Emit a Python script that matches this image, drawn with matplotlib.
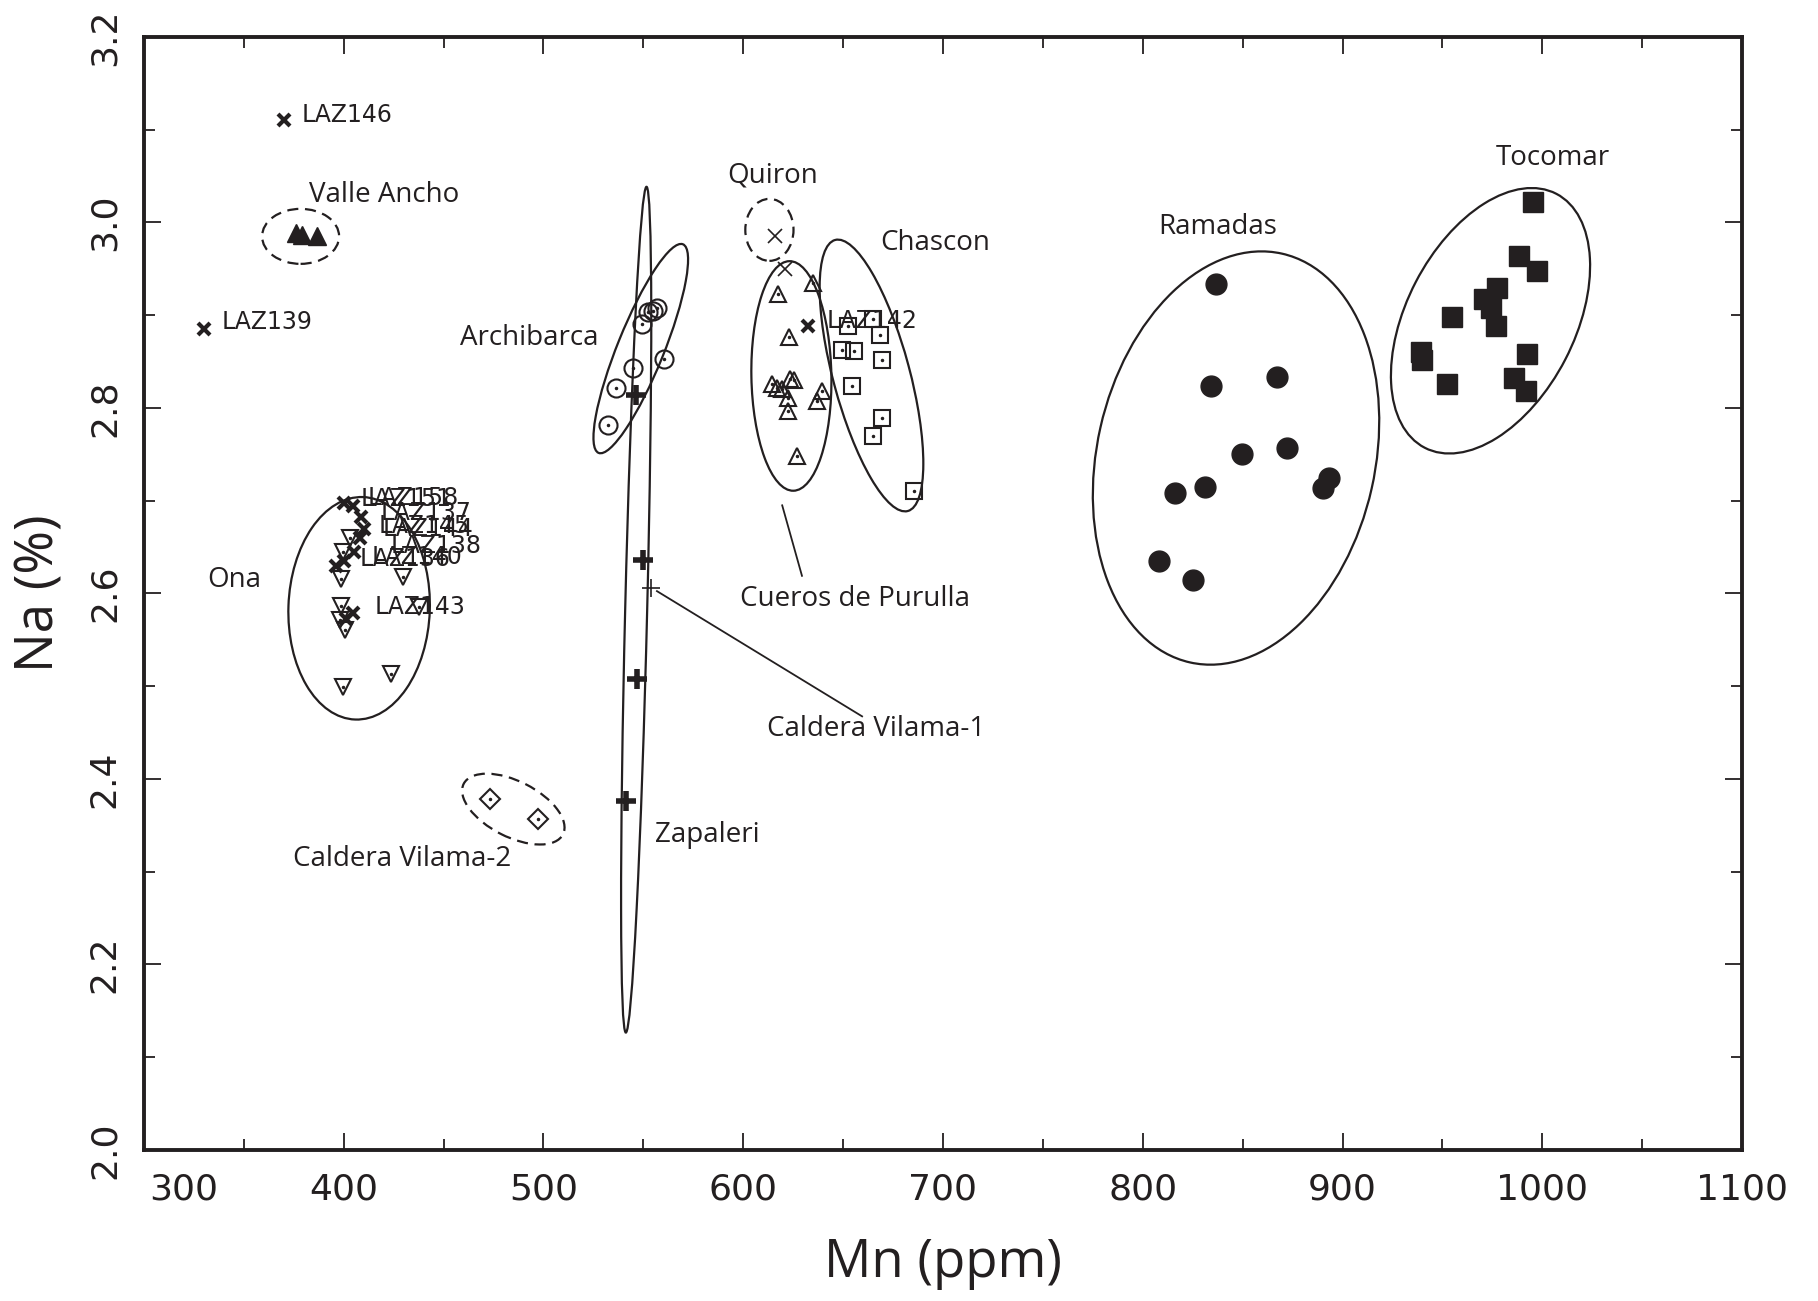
import matplotlib.pyplot as plt
from matplotlib.patches import Ellipse
from matplotlib.transforms import ScaledTranslation

plt.rcParams['font.family'] = ['Open Sans', 'DejaVu Sans']
INK = '#231f20'

# LAZ samples (bold crosses with labels)
laz_names = ['LAZ146', 'LAZ139', 'LAZ142', 'LAZ151', 'LAZ158', 'LAZ137', 'LAZ145',
             'LAZ144', 'LAZ138', 'LAZ140', 'LAZ136', 'LAZ143', '']
laz_mn = [370, 330, 632.6, 400.1, 404.8, 408.8, 410.0, 408.2, 405.3, 400.1, 396.1, 404.8, 401.3]
laz_na = [3.11, 2.885, 2.888, 2.6975, 2.694, 2.6825, 2.67, 2.66, 2.645, 2.635, 2.63, 2.579, 2.5725]

# Valle Ancho (filled triangles)
valle_mn = [376, 379, 386.6]
valle_na = [2.989, 2.987, 2.985]

# Ona (open inverted triangles)
ona_mn = [398.6, 429.5, 398.6, 398.1, 400.6, 437.8, 399.5, 423.5, 403.1, 399.8]
ona_na = [2.616, 2.618, 2.5865, 2.571, 2.561, 2.585, 2.4995, 2.513, 2.6595, 2.645]

# Archibarca (open circles)
archi_mn = [532.5, 536.2, 545.0, 549.2, 552.5, 555.0, 556.7, 560.5]
archi_na = [2.782, 2.821, 2.843, 2.890, 2.903, 2.9045, 2.908, 2.853]

# Zapaleri (bold plus)
zapa_mn = [546.4, 549.9, 547.0, 541.2]
zapa_na = [2.814, 2.636, 2.5075, 2.376]

# Caldera Vilama-1 (thin plus)
vil1_mn = [553.9]
vil1_na = [2.606]

# Caldera Vilama-2 (open diamonds)
vil2_mn = [473.3, 497.2]
vil2_na = [2.378, 2.3565]

# Quiron (thin cross)
quiron_mn = [616.0, 620.9]
quiron_na = [2.985, 2.9495]

# Cueros de Purulla (open triangles)
cueros_mn = [617.6, 635.1, 623.0, 614.3, 616.8, 619.3, 623.5, 625.6, 622.3, 622.3, 639.6, 636.8, 627.1]
cueros_na = [2.9225, 2.935, 2.876, 2.8255, 2.822, 2.820, 2.831, 2.830, 2.811, 2.797, 2.818, 2.808, 2.748]

# Chascon (open squares)
chascon_mn = [652.6, 665.2, 668.5, 649.3, 655.2, 669.6, 654.3, 669.6, 665.2, 685.7]
chascon_na = [2.888, 2.8955, 2.879, 2.863, 2.861, 2.852, 2.824, 2.789, 2.770, 2.710]

# Ramadas (filled circles)
ramadas_mn = [836.5, 834.2, 867.4, 849.6, 872.3, 815.9, 831.2, 893.3, 890.1, 808.2, 825.4]
ramadas_na = [2.934, 2.824, 2.833, 2.750, 2.7565, 2.708, 2.715, 2.724, 2.714, 2.635, 2.6145]

# Tocomar (filled squares)
tocomar_mn = [995.5, 988.4, 997.2, 977.5, 971.0, 974.4, 976.7, 955.0, 939.2, 939.6, 952.2, 992.6, 986.1, 991.7]
tocomar_na = [3.022, 2.964, 2.948, 2.929, 2.917, 2.908, 2.888, 2.898, 2.860, 2.852, 2.8255, 2.858, 2.832, 2.818]

fig = plt.figure(figsize=(18.18, 13.01), dpi=100)
ax = fig.add_axes([0.0792, 0.1161, 0.8790, 0.8555])
ax.set_xlim(300, 1100)
ax.set_ylim(2.0, 3.2)


def ring(mn, na, w, h, ang, ls='-'):
    # ellipse sized in inches, centred on a data point
    tr = fig.dpi_scale_trans + ScaledTranslation(mn, na, ax.transData)
    ax.add_patch(Ellipse((0, 0), w, h, angle=ang, transform=tr, fill=False,
                         lw=1.6, ls=ls, color=INK, zorder=2))


ring(378.4, 2.985, 0.77, 0.55, 0, ls=(0, (5, 3)))      # Valle Ancho
ring(613.1, 2.992, 0.482, 0.62, 0, ls=(0, (5, 3)))     # Quiron
ring(548.7, 2.864, 2.25, 0.464, 68)                    # Archibarca
ring(546.4, 2.5825, 8.46, 0.22, 88.6)                  # Zapaleri
ring(624.1, 2.8345, 2.296, 0.80, 91)                   # Cueros de Purulla
ring(664.2, 2.835, 2.806, 0.766, 105)                  # Chascon
ring(407.7, 2.584, 2.226, 1.414, 88)                   # Ona
ring(846.7, 2.746, 4.19, 2.78, 77.3)                   # Ramadas
ring(974.1, 2.894, 2.86, 1.684, 62.6)                  # Tocomar
ring(484.9, 2.3675, 1.114, 0.556, -27, ls=(0, (5, 3)))  # Caldera Vilama-2


def open_pts(mn, na, m, ms):
    ax.plot(mn, na, m, ms=ms, mfc='none', mec=INK, mew=1.5, ls='none', zorder=3)
    ax.plot(mn, na, '.', ms=3, color=INK, ls='none', zorder=3)


open_pts(ona_mn, ona_na, 'v', 12)
open_pts(archi_mn, archi_na, 'o', 13)
open_pts(cueros_mn, cueros_na, '^', 12)
open_pts(chascon_mn, chascon_na, 's', 11)
open_pts(vil2_mn, vil2_na, 'D', 10)

ax.plot(valle_mn, valle_na, '^', ms=13, color=INK, ls='none', zorder=3)
ax.plot(ramadas_mn, ramadas_na, 'o', ms=15, color=INK, ls='none', zorder=3)
ax.plot(tocomar_mn, tocomar_na, 's', ms=14, color=INK, ls='none', zorder=3)
ax.plot(zapa_mn, zapa_na, '+', ms=14, mew=4, color=INK, ls='none', zorder=3)
ax.plot(vil1_mn, vil1_na, '+', ms=13, mew=1.2, color=INK, ls='none', zorder=3)
ax.plot(quiron_mn, quiron_na, 'x', ms=10, mew=1.2, color=INK, ls='none', zorder=3)
ax.plot(laz_mn, laz_na, 'x', ms=9, mew=3, color=INK, ls='none', zorder=4)

# label offsets (points) for the LAZ samples
laz_off = [(13, 4), (13, 5), (13, 4), (12, 3), (10, 6), (14, 3), (11, 2),
           (16, 6), (26, 4), (20, 3), (17, 5), (15, 4), (0, 0)]
for name, x, y, off in zip(laz_names, laz_mn, laz_na, laz_off):
    if name:
        ax.annotate(name, (x, y), xytext=off, textcoords='offset points',
                    ha='left', va='center', fontsize=17, family='DejaVu Sans',
                    color=INK, zorder=5)

# group names
groups = [('Valle Ancho', 420.4, 3.03), ('Quiron', 614.9, 3.051), ('Chascon', 696.1, 2.9775),
          ('Archibarca', 493.0, 2.875), ('Ramadas', 837.7, 2.995), ('Tocomar', 1005.4, 3.07),
          ('Ona', 345.0, 2.615), ('Cueros de Purulla', 656.1, 2.594),
          ('Caldera Vilama-1', 666.5, 2.454), ('Zapaleri', 581.8, 2.34),
          ('Caldera Vilama-2', 429.1, 2.314)]
for txt, x, y in groups:
    ax.text(x, y, txt, ha='center', va='center', fontsize=20, color=INK)

# leader lines
ax.plot([619.5, 629.4], [2.695, 2.619], color=INK, lw=1.3)
ax.plot([556.8, 659.5], [2.6025, 2.4675], color=INK, lw=1.3)

# axes styling
for s in ax.spines.values():
    s.set_linewidth(2.8)
    s.set_color(INK)
ax.set_xticks(range(300, 1101, 100))
ax.set_xticks(range(350, 1100, 100), minor=True)
yt = [2.0, 2.2, 2.4, 2.6, 2.8, 3.0, 3.2]
ax.set_yticks(yt)
ax.set_yticks([2.1, 2.3, 2.5, 2.7, 2.9, 3.1], minor=True)
ax.set_yticklabels(['%.1f' % v for v in yt], rotation=90, va='center')
ax.tick_params(which='both', direction='in', top=True, right=True, color=INK, width=1.3)
ax.tick_params(which='major', length=12, pad=16, labelsize=26)
ax.tick_params(which='minor', length=8)
for lab in ax.get_xticklabels() + ax.get_yticklabels():
    lab.set_family('DejaVu Sans')
    lab.set_color(INK)
first = ax.get_xticklabels()[0]
first.set_transform(first.get_transform() + ScaledTranslation(0.4, 0, fig.dpi_scale_trans))

ax.set_xlabel('Mn (ppm)', fontsize=38, color=INK)
ax.set_ylabel('Na (%)', fontsize=38, color=INK)
ax.xaxis.label.set_va('center')
ax.yaxis.label.set_va('center')
ax.xaxis.set_label_coords(0.5, -0.102)
ax.yaxis.set_label_coords(-0.065, 0.5)

fig.savefig('out.png', dpi=100)
